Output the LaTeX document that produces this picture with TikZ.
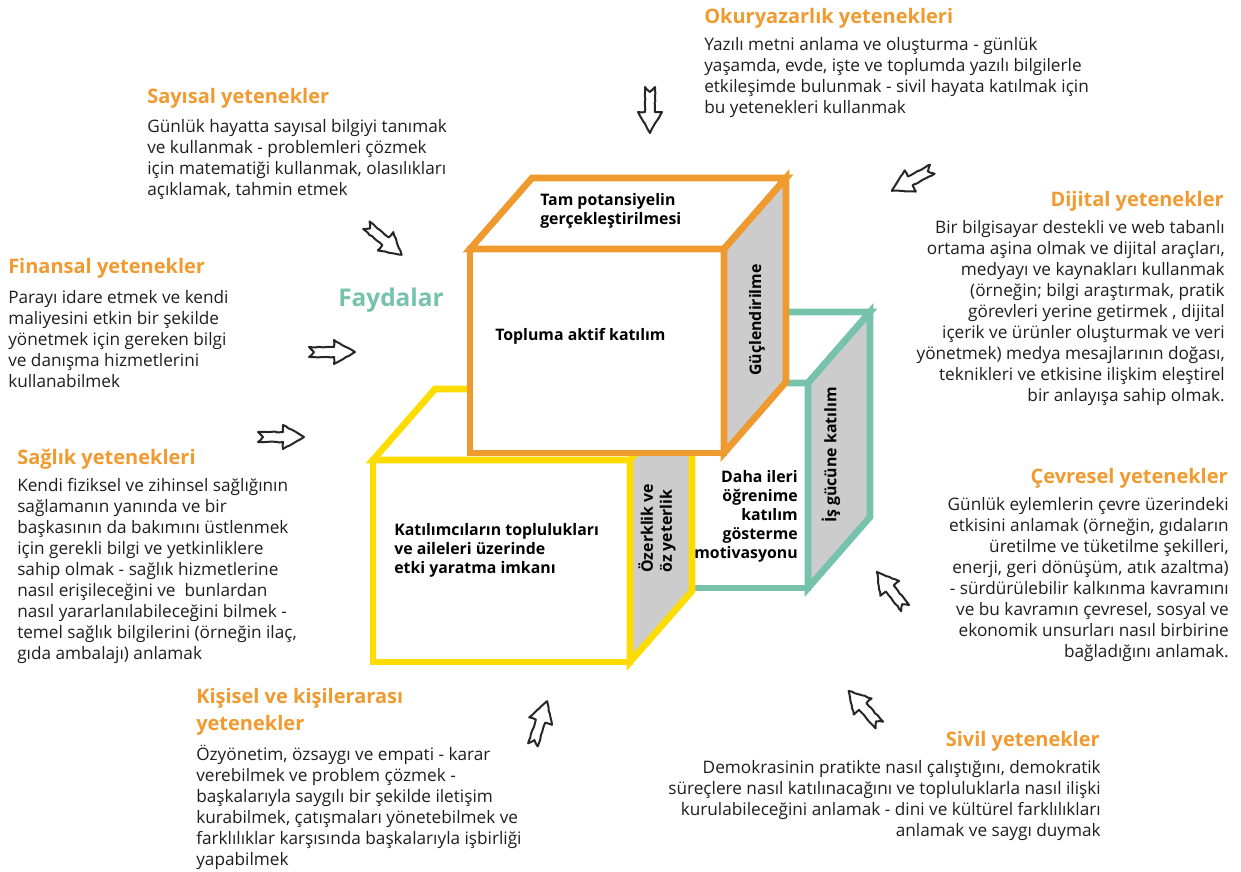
\documentclass[tikz,border=0pt]{standalone}
\usepackage{fontspec}
\setmainfont{Open Sans}
\usetikzlibrary{positioning,decorations.pathmorphing}

\definecolor{skillorange}{HTML}{F09A30}
\definecolor{cubeorange}{HTML}{EE9A2E}
\definecolor{cubeyellow}{HTML}{FFDC00}
\definecolor{cubeteal}{HTML}{76C2AA}
\definecolor{sidegray}{HTML}{CBCCCB}
\definecolor{inktext}{HTML}{1E1E1E}

\tikzset{
  heading/.style={inner sep=0pt,font=\fontsize{15}{20}\selectfont\bfseries,text=skillorange},
  bodytext/.style={inner sep=0pt,font=\fontsize{12.9}{15.75}\selectfont,text=inktext},
  cubetext/.style={inner sep=0pt,font=\fontsize{11.9}{14.25}\selectfont\bfseries,text=black},
  cubeedge/.style={line width=5pt,line join=miter},
  arrowline/.style={line width=1.5pt,line join=round,draw=black!85,fill=white,
    decorate,decoration={random steps,segment length=2.5pt,amplitude=0.35pt}},
  sketcharrow/.pic={
    \draw[arrowline] (-23,-5) -- (2,-5) -- (2,-12) -- (23,0) -- (2,12) -- (2,5)
      -- (-23,5) -- (-18,0) -- cycle;
  }
}

\begin{document}
\begin{tikzpicture}[x=0.75pt,y=-0.75pt]
  \useasboundingbox (0,0) rectangle (1241,871);

  % teal cube (back)
  \filldraw[cubeedge,draw=cubeteal,fill=white] (552,383) rectangle (808,588);
  \filldraw[cubeedge,draw=cubeteal,fill=white] (552,383) -- (614,312) -- (870,312) -- (808,383) -- cycle;
  \filldraw[cubeedge,draw=cubeteal,fill=sidegray] (808,383) -- (870,312) -- (870,517) -- (808,588) -- cycle;

  % yellow cube
  \filldraw[cubeedge,draw=cubeyellow,fill=white] (373,460) rectangle (630,662);
  \filldraw[cubeedge,draw=cubeyellow,fill=white] (373,460) -- (435,389) -- (692,389) -- (630,460) -- cycle;
  \filldraw[cubeedge,draw=cubeyellow,fill=sidegray] (630,460) -- (692,389) -- (692,591) -- (630,662) -- cycle;

  % orange cube (front)
  \filldraw[cubeedge,draw=cubeorange,fill=white] (470,249) rectangle (724,453);
  \filldraw[cubeedge,draw=cubeorange,fill=white] (470,249) -- (532,178) -- (786,178) -- (724,249) -- cycle;
  \filldraw[cubeedge,draw=cubeorange,fill=sidegray] (724,249) -- (786,178) -- (786,382) -- (724,453) -- cycle;

  % texts on the cubes
  \node[cubetext,anchor=west,align=left] (tamtext) at (540,211) {Tam potansiyelin\\gerçekleştirilmesi};
  \node[cubetext,anchor=west] (toplumtext) at (495,336) {Topluma aktif katılım};
  \node[cubetext,rotate=90] (guctext) at (757,320) {Güçlendirilme};
  \node[cubetext,anchor=west,align=left] (etkitext) at (394,550) {Katılımcıların toplulukları\\ve aileleri üzerinde\\etki yaratma imkanı};
  \node[cubetext,rotate=90,anchor=west,align=left] (ozertext) at (657,573) {Özerklik ve\\öz yeterlik};
  \node[cubetext,anchor=east,align=right] (dahatext) at (798,516) {Daha ileri\\öğrenime\\katılım\\gösterme\\motivasyonu};
  \node[cubetext,rotate=90] (istext) at (831,455) {İş gücüne katılım};

  \node[inner sep=0pt,anchor=west,font=\fontsize{18.3}{22}\selectfont\bfseries,text=cubeteal] (fayda) at (338,300) {Faydalar};

  % skill blocks
  \node[heading,anchor=north west] (okuhead) at (704,8) {Okuryazarlık yetenekleri};
  \node[bodytext,anchor=north west,align=left] (okubody) at (704,37) {Yazılı metni anlama ve oluşturma - günlük\\yaşamda, evde, işte ve toplumda yazılı bilgilerle\\etkileşimde bulunmak - sivil hayata katılmak için\\bu yetenekleri kullanmak};

  \node[heading,anchor=north west] (sayhead) at (147,88) {Sayısal yetenekler};
  \node[bodytext,anchor=north west,align=left] (saybody) at (147,119) {Günlük hayatta sayısal bilgiyi tanımak\\ve kullanmak - problemleri çözmek\\için matematiği kullanmak, olasılıkları\\açıklamak, tahmin etmek};

  \node[heading,anchor=north west] (finhead) at (8,258) {Finansal yetenekler};
  \node[bodytext,anchor=north west,align=left] (finbody) at (8,290) {Parayı idare etmek ve kendi\\maliyesini etkin bir şekilde\\yönetmek için gereken bilgi\\ve danışma hizmetlerini\\kullanabilmek};

  \node[heading,anchor=north west] (saghead) at (17,449) {Sağlık yetenekleri};
  \node[bodytext,anchor=north west,align=left] (sagbody) at (17,478) {Kendi fiziksel ve zihinsel sağlığının\\sağlamanın yanında ve bir\\başkasının da bakımını üstlenmek\\için gerekli bilgi ve yetkinliklere\\sahip olmak - sağlık hizmetlerine\\nasıl erişileceğini ve \ bunlardan\\nasıl yararlanılabileceğini bilmek -\\temel sağlık bilgilerini (örneğin ilaç,\\gıda ambalajı) anlamak};

  \node[heading,anchor=north west,align=left,font=\fontsize{15}{20.25}\selectfont\bfseries] (kishead) at (196,688) {Kişisel ve kişilerarası\\yetenekler};
  \node[bodytext,anchor=north west,align=left] (kisbody) at (196,745) {Özyönetim, özsaygı ve empati - karar\\verebilmek ve problem çözmek -\\başkalarıyla saygılı bir şekilde iletişim\\kurabilmek, çatışmaları yönetebilmek ve\\farklılıklar karşısında başkalarıyla işbirliği\\yapabilmek};

  \node[heading,anchor=north east] (dijhead) at (1224,191) {Dijital yetenekler};
  \node[bodytext,anchor=north east,align=right] (dijbody) at (1225,220) {Bir bilgisayar destekli ve web tabanlı\\ortama aşina olmak ve dijital araçları,\\medyayı ve kaynakları kullanmak\\(örneğin; bilgi araştırmak, pratik\\görevleri yerine getirmek , dijital\\içerik ve ürünler oluşturmak ve veri\\yönetmek) medya mesajlarının doğası,\\teknikleri ve etkisine ilişkim eleştirel\\bir anlayışa sahip olmak.};

  \node[heading,anchor=north east] (cevhead) at (1228,468) {Çevresel yetenekler};
  \node[bodytext,anchor=north east,align=right] (cevbody) at (1229,497) {Günlük eylemlerin çevre üzerindeki\\etkisini anlamak (örneğin, gıdaların\\üretilme ve tüketilme şekilleri,\\enerji, geri dönüşüm, atık azaltma)\\- sürdürülebilir kalkınma kavramını\\ve bu kavramın çevresel, sosyal ve\\ekonomik unsurları nasıl birbirine\\bağladığını anlamak.};

  \node[heading,anchor=north east] (sivhead) at (1100,731) {Sivil yetenekler};
  \node[bodytext,anchor=north east,align=right] (sivbody) at (1101,760) {Demokrasinin pratikte nasıl çalıştığını, demokratik\\süreçlere nasıl katılınacağını ve topluluklarla nasıl ilişki\\kurulabileceğini anlamak - dini ve kültürel farklılıkları\\anlamak ve saygı duymak};

  % sketched arrows
  \pic[rotate=-90] at (650,110) {sketcharrow};
  \pic[rotate=208] at (912,180) {sketcharrow};
  \pic[rotate=-40] at (384,240) {sketcharrow};
  \pic at (332,352) {sketcharrow};
  \pic at (281,437) {sketcharrow};
  \pic[rotate=72] at (540,723) {sketcharrow};
  \pic[rotate=132] at (864,708) {sketcharrow};
  \pic[rotate=128] at (891,590) {sketcharrow};
\end{tikzpicture}
\end{document}
